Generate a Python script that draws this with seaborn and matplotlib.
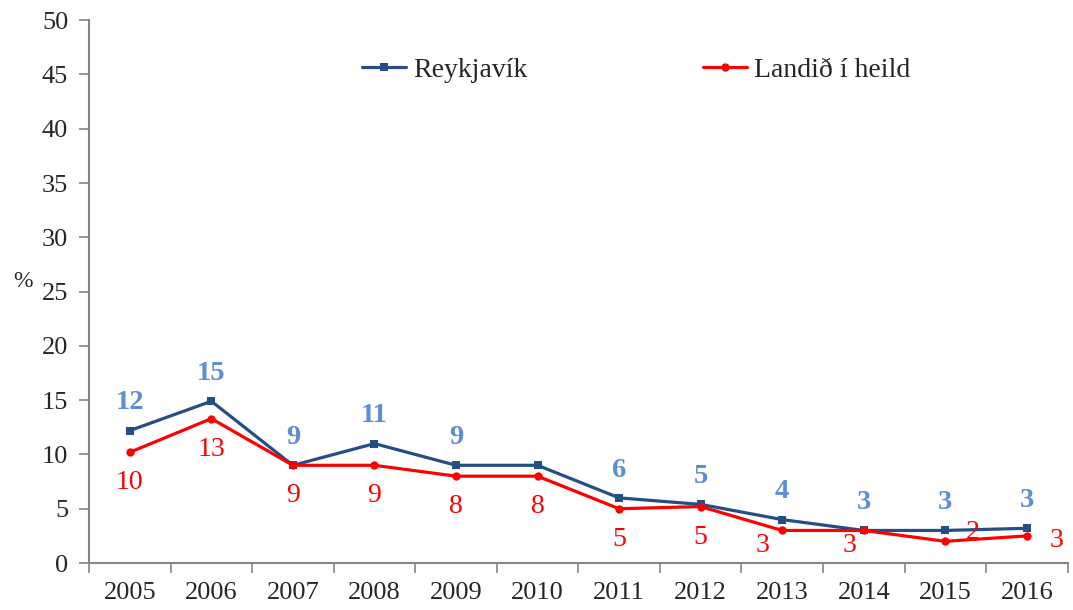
import pandas as pd
import matplotlib
matplotlib.use("Agg")
import matplotlib.pyplot as plt
import seaborn as sns

# -------------------------------------------------------
# DONNÉES
# -------------------------------------------------------

years = ["2005", "2006", "2007", "2008", "2009", "2010",
         "2011", "2012", "2013", "2014", "2015", "2016"]
reykjavik = [12.2, 14.9, 9.0, 11.0, 9.0, 9.0, 6.0, 5.4, 4.0, 3.0, 3.0, 3.2]
landid = [10.2, 13.3, 9.0, 9.0, 8.0, 8.0, 5.0, 5.2, 3.0, 3.0, 2.0, 2.5]
reykjavik_labels = ["12", "15", "9", "11", "9", None, "6", "5", "4", "3", "3", "3"]
landid_labels = ["10", "13", "9", "9", "8", "8", "5", "5", "3", "3", "2", "3"]

# -------------------------------------------------------
# CONFIGURATION
# -------------------------------------------------------

sns.set_theme(style="white")
plt.rcParams["font.family"] = ["Liberation Serif", "DejaVu Serif"]

BLUE = "#254E86"
BLUE_LBL = "#5A8ED6"
RED = "#FF0000"
GREY = "#858585"

df = pd.DataFrame({"pos": range(len(years)), "ar": years,
                   "Reykjavík": reykjavik, "Landið í heild": landid})

fig = plt.figure(figsize=(10.73, 6.10), dpi=100)
ax = fig.add_axes([0.083, 0.077, 0.912, 0.890])

sns.lineplot(data=df, x="pos", y="Reykjavík", ax=ax, color=BLUE, lw=2.3,
             marker="s", markersize=6, markeredgewidth=0, label="Reykjavík")
sns.lineplot(data=df, x="pos", y="Landið í heild", ax=ax, color=RED, lw=2.3,
             marker="o", markersize=6, markeredgewidth=0, label="Landið í heild")

# étiquettes de données
for i, (v, t) in enumerate(zip(reykjavik, reykjavik_labels)):
    if t is None:
        continue
    ax.annotate(t, (i, v), xytext=(0, 20), textcoords="offset points",
                ha="center", va="center", color=BLUE_LBL, fontsize=20.5,
                fontweight="bold")

# décalages particuliers (points) pour les étiquettes rouges
red_offsets = {8: (-14, -11), 9: (-10, -11), 10: (20, 6), 11: (21, -3)}
for i, (v, t) in enumerate(zip(landid, landid_labels)):
    dx, dy = red_offsets.get(i, (0, -22))
    ax.annotate(t, (i, v), xytext=(dx, dy), textcoords="offset points",
                ha="center", va="center", color=RED, fontsize=20)

ax.set_xlim(-0.5, len(years) - 0.5)
ax.set_ylim(0, 50)
ax.set_yticks(range(0, 51, 5))
ax.set_xticks(range(len(years)))
ax.set_xticklabels(years)
ax.set_xticks([i + 0.5 for i in range(-1, len(years))], minor=True)
ax.tick_params(axis="x", which="major", length=0, labelsize=19, pad=14)
ax.tick_params(axis="x", which="minor", length=7, width=1.2, color=GREY,
               direction="out", bottom=True)
ax.tick_params(axis="y", length=7, width=1.2, color=GREY, direction="out",
               left=True, labelsize=19, pad=8)

ax.set_xlabel("")
ax.set_ylabel("%", rotation=0, fontsize=17, labelpad=4)
ax.yaxis.set_label_coords(-0.068, 0.5)

for s in ["top", "right"]:
    ax.spines[s].set_visible(False)
for s in ["left", "bottom"]:
    ax.spines[s].set_color(GREY)
    ax.spines[s].set_linewidth(1.5)

ax.legend(loc="center", bbox_to_anchor=(0.559, 0.908), ncol=2,
          frameon=False, fontsize=20, columnspacing=6.3, handlelength=1.6,
          handletextpad=0.25)

fig.savefig("out.png", dpi=100)
plt.close(fig)
